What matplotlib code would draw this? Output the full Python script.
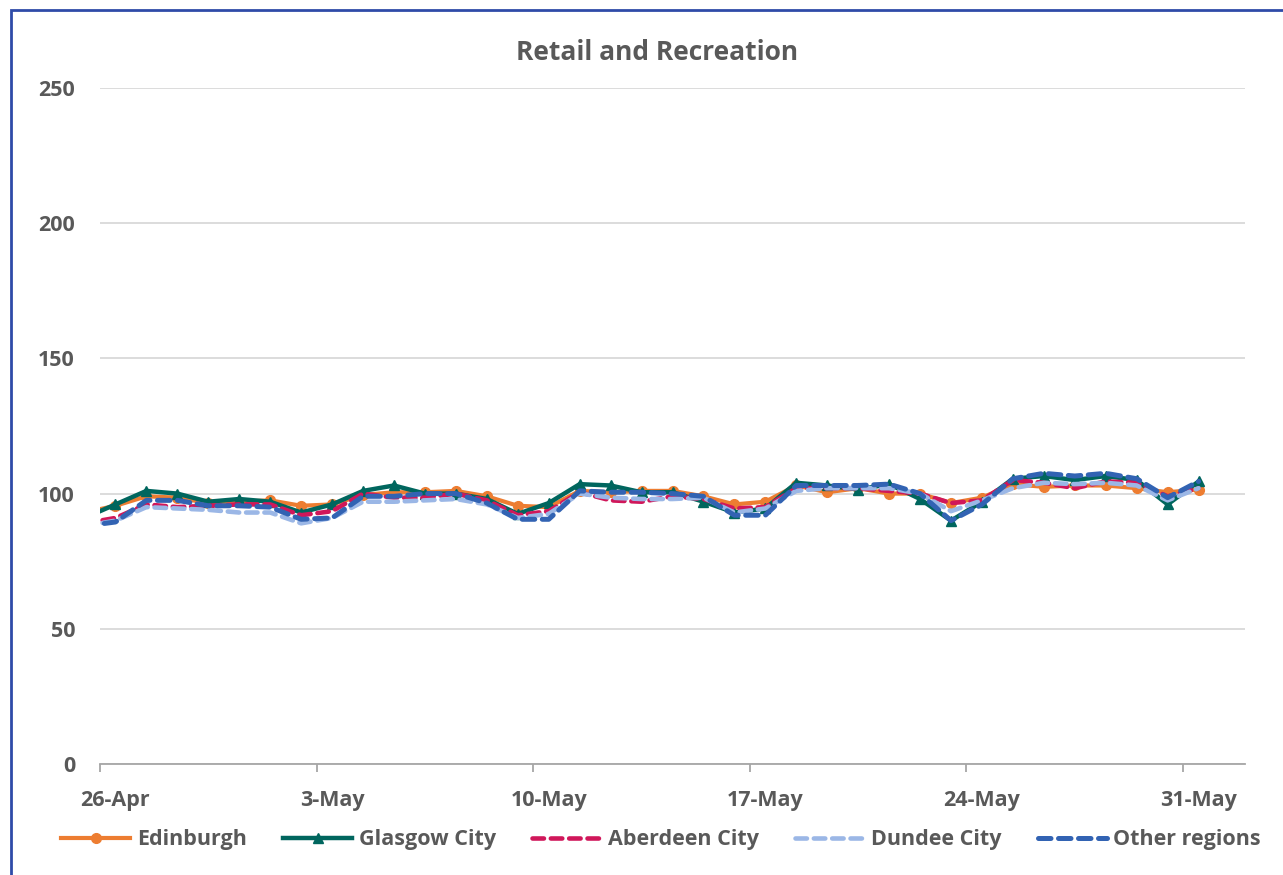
import numpy as np
import matplotlib
matplotlib.use("Agg")
import matplotlib.pyplot as plt
from matplotlib.patches import Rectangle

plt.rcParams['font.family'] = ['Open Sans', 'DejaVu Sans']

# days counted from 26-Apr (25-Apr = -1 ... 31-May = 35)
days = np.arange(-1, 36)
tick_days = [0, 7, 14, 21, 28, 35]
tick_labels = ["26-Apr", "3-May", "10-May", "17-May", "24-May", "31-May"]

edinburgh = [93, 95.5, 99, 98.5, 96.5, 97,
             97.5, 95.5, 96, 99.5, 100.5, 100.5, 101, 99, 95.5, 95, 101, 100.5, 101, 101,
             99, 96, 97, 103, 100.5, 102, 100, 100, 96.5, 98.5, 103.5, 102.5, 103, 103,
             102, 100.5, 101.5]
glasgow = [91, 96, 101, 100, 97, 98,
           97, 93, 96, 101, 103, 100, 100, 98, 92.5, 96.5, 103.5, 103, 100.5, 100.5,
           97, 93, 94.5, 104, 103, 101.5, 103.5, 98, 90, 97, 105.5, 106.5, 105, 106.5,
           105, 96, 104.5]
aberdeen = [89, 91, 96, 95, 95.5, 96,
            96, 92, 93.5, 100, 98.5, 98.5, 100, 97.5, 92, 93.5, 100.5, 97.5, 97, 99,
            98, 94.5, 95, 102, 102, 102, 101, 100, 96.5, 97.5, 105, 104, 102, 104.5,
            104, 99, 102]
dundee = [88, 90, 95, 94.5, 94, 93,
          93, 89, 91, 97, 97, 97.5, 98, 96, 91, 92.5, 100, 98.5, 98, 98,
          98.5, 93, 94.5, 101, 102, 102, 102, 100, 93.5, 97.5, 102, 104, 103.5, 104,
          103, 97.5, 102]
other = [88, 89.5, 97.5, 97.5, 95.5, 95.5,
         95, 90.5, 91, 99, 99, 100, 100, 96.5, 90.5, 90.5, 101, 100.5, 100.5, 100,
         99, 92, 92, 103, 103, 103, 103.5, 100, 90, 96, 105.5, 107.5, 106.5, 107.5,
         105.5, 98.5, 104.5]

grey = "#595959"

fig = plt.figure(figsize=(12.83, 8.75), dpi=100)
ax = fig.add_axes([100 / 1283, (875 - 764) / 875, 1145 / 1283, 676 / 875])

# chart border (cut off at the right/bottom in the reference)
fig.patches.append(Rectangle((11 / 1283, -0.1), 1.2, (875 - 10) / 875 + 0.1,
                             transform=fig.transFigure, fill=False,
                             edgecolor="#2F4BA8", linewidth=2))

ax.plot(days, edinburgh, "-o", color="#ED7D31", lw=3, ms=7, label="Edinburgh", zorder=3)
ax.plot(days, glasgow, "-^", color="#00665E", lw=3.2, ms=7, label="Glasgow City", zorder=4)
ax.plot(days, aberdeen, "--", color="#D0175A", lw=3.3, dashes=(2.5, 1.5),
        dash_capstyle="round", label="Aberdeen City", zorder=5)
ax.plot(days, dundee, "--", color="#9BB7E6", lw=3.3, dashes=(2.5, 1.5),
        dash_capstyle="round", label="Dundee City", zorder=6)
ax.plot(days, other, "--", color="#3263B3", lw=3.6, dashes=(2.5, 1.5),
        dash_capstyle="round", label="Other regions", zorder=7)

ax.set_xlim(-0.5, 36.5)
ax.set_ylim(0, 250)
ax.set_yticks(range(0, 251, 50))
ax.yaxis.grid(True, color="#D9D9D9", lw=1.3)
ax.set_axisbelow(True)
for s in ["top", "right", "left"]:
    ax.spines[s].set_visible(False)
ax.spines["bottom"].set_color("#A6A6A6")
ax.spines["bottom"].set_linewidth(1.3)
ax.tick_params(axis="y", length=0, pad=18, labelsize=15.5, labelcolor=grey)

ax.set_xticks(tick_days)
ax.set_xticklabels(tick_labels, fontsize=15.5, fontweight="bold", color=grey)
ax.set_xticks([d - 0.5 for d in tick_days], minor=True)
ax.tick_params(axis="x", which="major", length=0, pad=19)
ax.tick_params(axis="x", which="minor", length=6, color="#A6A6A6", width=1.3)
for t in ax.get_yticklabels():
    t.set_fontweight("bold")

fig.text(657 / 1283, 1 - 52 / 875, "Retail and Recreation", ha="center", va="center",
         fontsize=19, fontweight="bold", color=grey)

leg = fig.legend(loc="center", bbox_to_anchor=(661 / 1283, 1 - 840 / 875), ncol=5,
                 frameon=False, fontsize=15.5, handlelength=3.2, handletextpad=0.3,
                 columnspacing=1.7)
for t in leg.get_texts():
    t.set_fontweight("bold")
    t.set_color(grey)

fig.savefig("out.png", dpi=100)
